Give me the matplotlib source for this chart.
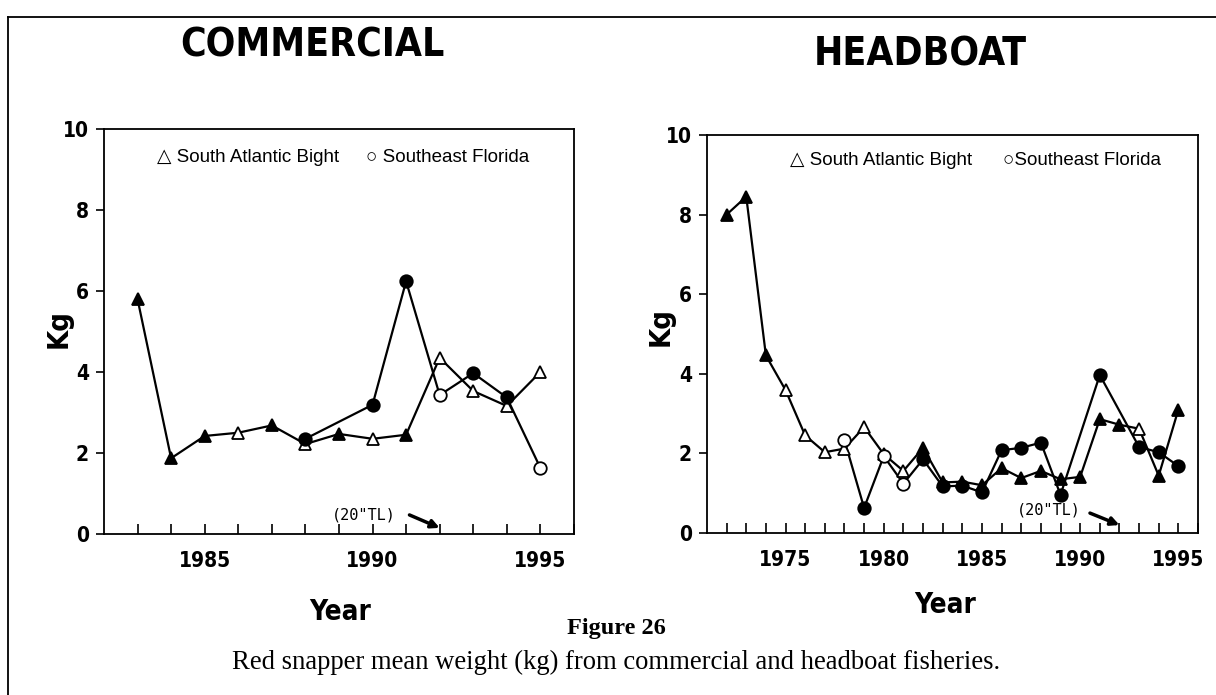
import matplotlib
matplotlib.use("Agg")
import matplotlib.pyplot as plt
from matplotlib.lines import Line2D

# ---- data ----
# Commercial
com_years_sab = [1983, 1984, 1985, 1986, 1987, 1988, 1989, 1990, 1991, 1992, 1993, 1994, 1995]
com_sab = [5.8, 1.87, 2.42, 2.5, 2.68, 2.22, 2.47, 2.35, 2.45, 4.35, 3.53, 3.16, 4.0]
com_years_sef = [1988, 1990, 1991, 1992, 1993, 1994, 1995]
com_sef = [2.35, 3.19, 6.24, 3.43, 3.97, 3.37, 1.63]

# Headboat
hb_years_sab = list(range(1972, 1996))
hb_sab = [8.0, 8.45, 4.46, 3.59, 2.45, 2.03, 2.12, 2.66, 1.98, 1.56, 2.14, 1.27,
          1.29, 1.2, 1.63, 1.38, 1.56, 1.35, 1.41, 2.86, 2.72, 2.62, 1.44, 3.1]
hb_years_sef = [1978, 1979, 1980, 1981, 1982, 1983, 1984, 1985, 1986, 1987, 1988,
                1989, 1991, 1993, 1994, 1995]
hb_sef = [2.33, 0.63, 1.93, 1.24, 1.85, 1.17, 1.19, 1.02, 2.08, 2.14, 2.27,
          0.96, 3.97, 2.16, 2.03, 1.68]

# which symbols look solid in the scan
com_sab_fill = [1, 1, 1, 0, 1, 0, 1, 0, 1, 0, 0, 0, 0]
com_sef_fill = [1, 1, 1, 0, 1, 1, 0]
hb_sab_fill = [1, 1, 1, 0, 0, 0, 0, 0, 0, 0, 1, 1, 1, 1, 1, 1, 1, 1, 1, 1, 1, 0, 1, 1]
hb_sef_fill = [0, 1, 0, 0, 1, 1, 1, 1, 1, 1, 1, 1, 1, 1, 1, 1]

narrow = dict(family="DejaVu Sans", stretch="condensed", fontweight="bold")
sans = ["Liberation Sans", "DejaVu Sans"]
serif = ["Liberation Serif", "DejaVu Serif"]

fig = plt.figure(figsize=(12.16, 6.95), dpi=100)


def draw_series(ax, xs, ys, fills, marker, ms):
    ax.plot(xs, ys, color="black", lw=1.6, zorder=2)
    for x, y, f in zip(xs, ys, fills):
        ax.plot([x], [y], marker=marker, ms=ms, color="black",
                markerfacecolor="black" if f else "white",
                markeredgewidth=1.3, zorder=3)


def style_axes(ax, xlo, xhi, major):
    ax.set_xlim(xlo, xhi)
    ax.set_ylim(0, 10)
    ax.set_yticks([0, 2, 4, 6, 8, 10])
    ax.set_xticks(major)
    ax.set_xticks(range(int(xlo) + 1, int(xhi) + 1), minor=True)
    ax.tick_params(axis="x", which="both", direction="in", length=7, width=1.2, pad=12)
    ax.tick_params(axis="y", direction="out", length=6, width=1.2, pad=5)
    for lab in ax.get_xticklabels() + ax.get_yticklabels():
        lab.set_family("DejaVu Sans")
        lab.set_stretch("condensed")
        lab.set_fontweight("bold")
        lab.set_fontsize(15)
    for s in ax.spines.values():
        s.set_linewidth(1.3)


def tl_note(ax, txt_xy, tail, head):
    ax.text(txt_xy[0], txt_xy[1], '(20"TL)', fontsize=11, family="DejaVu Sans Mono",
            ha="center", va="center")
    ax.annotate("", xy=head, xytext=tail,
                arrowprops=dict(arrowstyle="-|>", lw=2.5, color="black",
                                mutation_scale=12, shrinkA=0, shrinkB=0))


# ---- commercial panel ----
ax1 = fig.add_axes([0.0855, 0.2317, 0.3865, 0.5827])
draw_series(ax1, com_years_sab, com_sab, com_sab_fill, "^", 8.5)
draw_series(ax1, com_years_sef, com_sef, com_sef_fill, "o", 9)
style_axes(ax1, 1982, 1996, [1985, 1990, 1995])
ax1.text(0.113, 0.93, "\u25b3 South Atlantic Bight", transform=ax1.transAxes,
         fontsize=13.5, family=sans, va="center")
ax1.text(0.558, 0.93, "\u25cb Southeast Florida", transform=ax1.transAxes,
         fontsize=13.5, family=sans, va="center")
tl_note(ax1, (1989.75, 0.47), (1991.1, 0.47), (1992, 0.15))

# ---- headboat panel ----
ax2 = fig.add_axes([0.5814, 0.2331, 0.4038, 0.5727])
draw_series(ax2, hb_years_sab, hb_sab, hb_sab_fill, "^", 8.5)
draw_series(ax2, hb_years_sef, hb_sef, hb_sef_fill, "o", 9)
style_axes(ax2, 1971, 1996, [1975, 1980, 1985, 1990, 1995])
ax2.text(0.17, 0.935, "\u25b3 South Atlantic Bight", transform=ax2.transAxes,
         fontsize=13.5, family=sans, va="center")
ax2.text(0.603, 0.935, "\u25cbSoutheast Florida", transform=ax2.transAxes,
         fontsize=13.5, family=sans, va="center")
tl_note(ax2, (1988.4, 0.57), (1990.5, 0.5), (1992, 0.2))

# ---- labels and titles ----
fig.text(0.2566, 0.935, "COMMERCIAL", fontsize=28, ha="center", va="center", **narrow)
fig.text(0.7566, 0.922, "HEADBOAT", fontsize=28, ha="center", va="center", **narrow)
fig.text(0.048, 0.527, "Kg", fontsize=21, rotation=90, ha="center", va="center", **narrow)
fig.text(0.543, 0.53, "Kg", fontsize=21, rotation=90, ha="center", va="center", **narrow)
fig.text(0.28, 0.12, "Year", fontsize=20, ha="center", va="center", **narrow)
fig.text(0.777, 0.13, "Year", fontsize=20, ha="center", va="center", **narrow)
fig.text(0.507, 0.095, "Figure 26", fontsize=17.5, fontweight="bold", family=serif,
         ha="center", va="center")
fig.text(0.507, 0.047, "Red snapper mean weight (kg) from commercial and headboat fisheries.",
         fontsize=19.2, family=serif, ha="center", va="center")

# box lines round the figure (top and left only visible)
fig.add_artist(Line2D([0.0066, 1.0], [0.9755, 0.9755], color="black", lw=1.3,
                      transform=fig.transFigure))
fig.add_artist(Line2D([0.0066, 0.0066], [0.0, 0.9755], color="black", lw=1.3,
                      transform=fig.transFigure))

plt.savefig("out.png", dpi=100)
